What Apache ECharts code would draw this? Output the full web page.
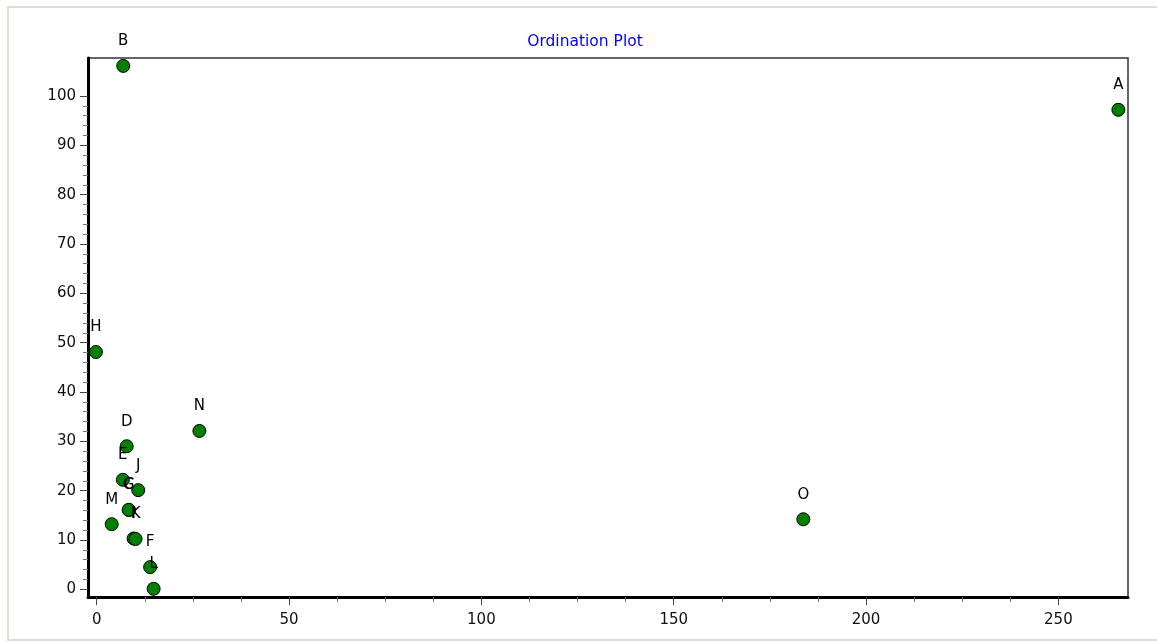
<!DOCTYPE html>
<html>
<head>
<meta charset="utf-8">
<script src="https://cdn.jsdelivr.net/npm/echarts@6/dist/echarts.min.js"></script>
<style>
html,body{margin:0;padding:0;background:#ffffff;}
#chart{width:1157px;height:643px;}
</style>
</head>
<body>
<div id="chart"></div>
<script>
// ---- data ----
const chartTitle = 'Ordination Plot';
const pointNames = ['A','B','C','D','E','F','G','H','I','J','K','L','M','N','O'];
const xValues = [265.6, 6.9, 8.4, 7.8, 6.8, 13.9, 8.3, -0.2, 9.6, 10.8, 10.1, 14.8, 3.9, 26.7, 183.7];
const yValues = [97.2, 106.1, 16.1, 29.0, 22.2, 4.5, 16.1, 48.1, 10.3, 20.1, 10.2, 0.1, 13.2, 32.1, 14.2];
const xTickValues = [0, 50, 100, 150, 200, 250];
const yTickValues = [0, 10, 20, 30, 40, 50, 60, 70, 80, 90, 100];
const xRange = [-2.26, 268.1];
const yRange = [-1.56, 107.7];

// ---- derived ----
const points = pointNames.map((n, i) => [xValues[i], yValues[i], n]);
function minorBetween(ticks, parts) {
  const out = [];
  for (let i = 0; i < ticks.length - 1; i++) {
    const step = (ticks[i + 1] - ticks[i]) / parts;
    for (let k = 1; k < parts; k++) out.push(ticks[i] + step * k);
  }
  return out;
}
const xMinor = minorBetween(xTickValues, 4);
const yMinor = minorBetween(yTickValues, 5);

const FONT = 'DejaVu Sans';

const chart = echarts.init(document.getElementById('chart'), null, { renderer: 'canvas' });
chart.setOption({
  animation: false,
  backgroundColor: '#ffffff',
  title: {
    text: chartTitle,
    left: 580,
    top: 29,
    textAlign: 'center',
    textStyle: { color: '#0000ff', fontFamily: FONT, fontSize: 15.5, fontWeight: 'normal' }
  },
  graphic: [{
    type: 'rect',
    shape: { x: 8, y: 7, width: 1200, height: 633 },
    style: { fill: 'none', stroke: '#d6d3c6', lineWidth: 1.5 },
    silent: true,
    z: -10
  }],
  grid: {
    left: 88, top: 58, width: 1040, height: 539,
    show: true, borderColor: '#333333', borderWidth: 1.5, backgroundColor: 'transparent'
  },
  xAxis: [{
    type: 'value', min: xRange[0], max: xRange[1], position: 'bottom',
    axisLine: { show: true, onZero: false, lineStyle: { color: '#000', width: 3 } },
    axisTick: { show: true, customValues: xTickValues, length: 8, inside: false, lineStyle: { color: '#444', width: 1 } },
    axisLabel: { show: true, customValues: xTickValues, margin: 16, color: '#111', fontFamily: FONT, fontSize: 15 },
    splitLine: { show: false }
  }, {
    type: 'value', min: xRange[0], max: xRange[1], position: 'bottom',
    axisLine: { show: false, onZero: false },
    axisLabel: { show: false },
    splitLine: { show: false },
    axisTick: { show: true, inside: false, customValues: xMinor, length: 5, lineStyle: { color: '#777', width: 1 } }
  }],
  yAxis: [{
    type: 'value', min: yRange[0], max: yRange[1], position: 'left',
    axisLine: { show: true, onZero: false, lineStyle: { color: '#000', width: 3 } },
    axisTick: { show: true, customValues: yTickValues, length: 8, lineStyle: { color: '#444', width: 1 } },
    axisLabel: { show: true, customValues: yTickValues, margin: 12, color: '#111', fontFamily: FONT, fontSize: 15 },
    splitLine: { show: false }
  }, {
    type: 'value', min: yRange[0], max: yRange[1], position: 'left',
    axisLine: { show: false, onZero: false },
    axisLabel: { show: false },
    splitLine: { show: false },
    axisTick: { show: true, inside: false, customValues: yMinor, length: 5, lineStyle: { color: '#777', width: 1 } }
  }],
  series: [{
    type: 'scatter',
    xAxisIndex: 0, yAxisIndex: 0,
    data: points,
    symbol: 'circle',
    symbolSize: 13,
    itemStyle: { color: '#008000', borderColor: '#000000', borderWidth: 1, opacity: 1 },
    label: {
      show: true, position: 'top', distance: 10,
      formatter: p => p.value[2],
      color: '#000', fontFamily: FONT, fontSize: 15, lineHeight: 15
    },
    labelLayout: { hideOverlap: false },
    emphasis: { disabled: true }
  }]
});
</script>
</body>
</html>
